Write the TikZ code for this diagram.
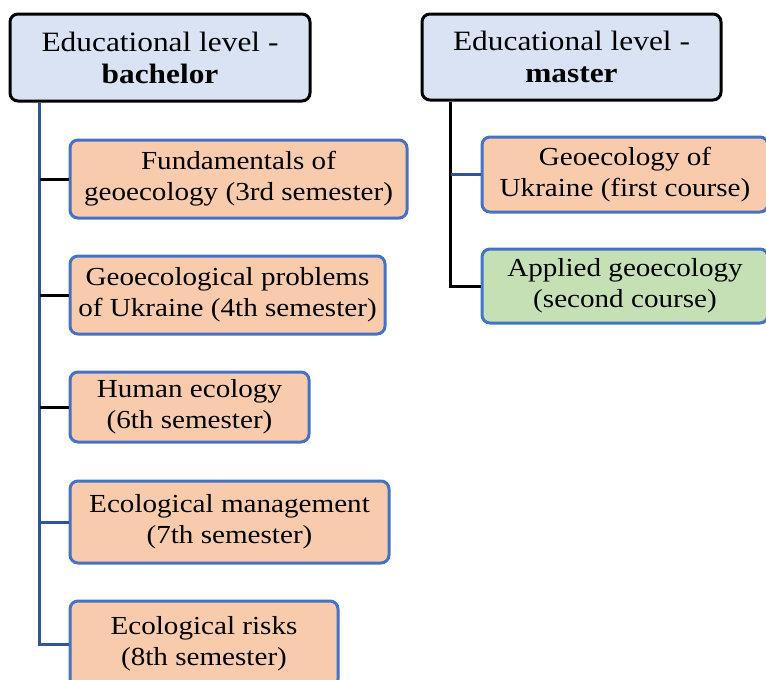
\documentclass[tikz,border=0pt]{standalone}
\usepackage{fontspec}
\setmainfont{Liberation Serif}[FakeStretch=1.12]
\usepackage{xcolor}
\usepackage{tikz}
\usetikzlibrary{positioning,calc}
\definecolor{lvlfill}{HTML}{DAE3F3}
\definecolor{crsfill}{HTML}{F8CBAD}
\definecolor{appfill}{HTML}{C5E0B4}
\definecolor{crsline}{HTML}{4472C4}
\definecolor{trunkblue}{HTML}{2F5597}

\begin{document}
\begin{tikzpicture}[
  x=1pt, y=-1pt,
  lvl/.style={draw=black, fill=lvlfill, rounded corners=8pt, line width=3pt, align=center, inner sep=0pt, font=\fontsize{28}{32}\selectfont},
  crs/.style={draw=crsline, fill=crsfill, rounded corners=8pt, line width=3pt, align=center, inner sep=0pt, font=\fontsize{26}{31}\selectfont},
  link/.style={line width=3pt},
]
\clip (0,0) rectangle (766,680);
% educational levels
\node[lvl, minimum width=300pt, minimum height=87pt] (bach) at (160,57.5) {Educational level -\\\textbf{bachelor}};
\node[lvl, minimum width=299pt, minimum height=86pt] (mast) at (571.5,57) {Educational level -\\\textbf{master}};
% bachelor courses
\node[crs, minimum width=337pt, minimum height=78pt] (fund) at (238.5,179) {Fundamentals of\\geoecology (3rd semester)};
\node[crs, minimum width=315pt, minimum height=78pt] (probl) at (227.5,295) {Geoecological problems\\of Ukraine (4th semester)};
\node[crs, minimum width=239pt, minimum height=70pt] (human) at (189.5,407) {Human ecology\\(6th semester)};
\node[crs, minimum width=319pt, minimum height=82pt] (manag) at (229.5,522) {Ecological management\\(7th semester)};
\node[crs, minimum width=268pt, minimum height=86pt] (risks) at (204,644) {Ecological risks\\(8th semester)};
% master courses
\node[crs, minimum width=286pt, minimum height=75pt] (ukr) at (625,174.5) {Geoecology of\\Ukraine (first course)};
\node[crs, fill=appfill, minimum width=286pt, minimum height=74pt] (appl) at (625,286) {Applied geoecology\\(second course)};

% connectors
\coordinate (bt) at ([xshift=31pt]bach.south west);
\coordinate (mt) at ([xshift=30pt]mast.south west);
\draw[link, trunkblue] (bt) |- (risks.west);
\foreach \c in {fund,probl,human}
  \draw[link, black] (bt |- \c.west) -- (\c.west);
\draw[link, trunkblue] (bt |- manag.west) -- (manag.west);
\draw[link, black] (mt) |- (appl.west);
\draw[link, trunkblue] (mt |- ukr.west) -- (ukr.west);
\end{tikzpicture}
\end{document}
